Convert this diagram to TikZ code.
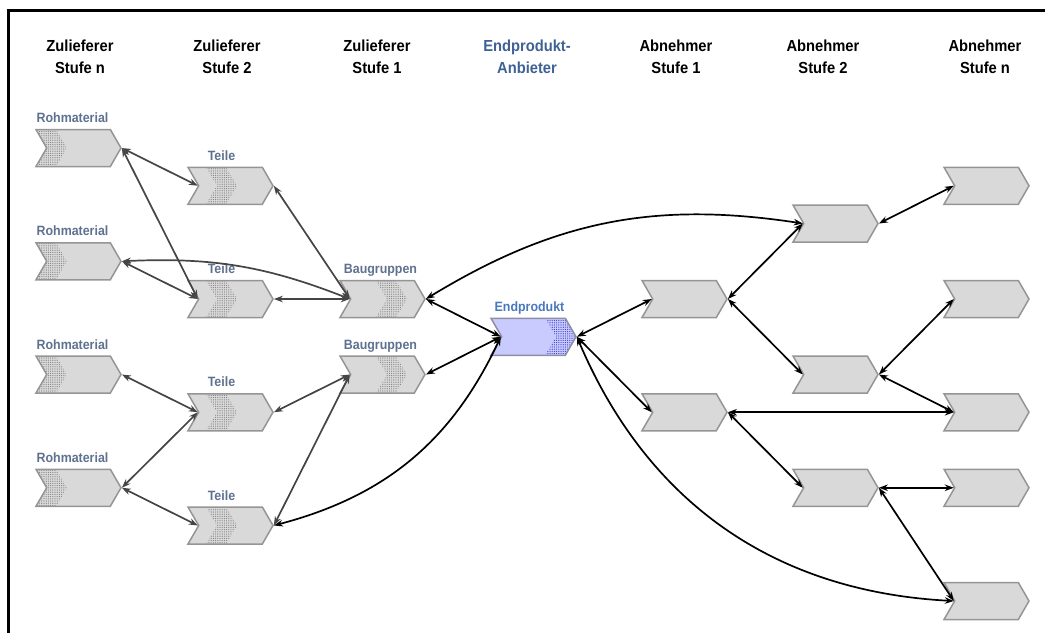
\documentclass[tikz,border=0pt]{standalone}
\usepackage{fontspec}
\setmainfont{Liberation Sans}[FakeStretch=0.92]
\usetikzlibrary{shapes.symbols,arrows.meta,patterns.meta}
\definecolor{boxgray}{HTML}{D9D9D9}
\definecolor{boxline}{HTML}{959595}
\definecolor{endfill}{HTML}{C9CBFF}
\definecolor{endline}{HTML}{8E8EA6}
\definecolor{labgray}{HTML}{5E7190}
\definecolor{endblue}{HTML}{4A78BC}
\definecolor{headblue}{HTML}{3F6194}
\definecolor{linkgray}{HTML}{454545}
\begin{document}
\begin{tikzpicture}[x=1pt, y=-1pt,
    stage/.style={draw=boxline, line width=1.5pt, fill=boxgray, signal, signal to=east, signal from=west,
        signal pointer angle=120, minimum width=85pt, minimum height=37pt, inner sep=0pt},
    band/.style 2 args={path picture={\fill[pattern={Dots[distance=2.2pt,radius=0.6pt]}, pattern color=#2]
        ([xshift=#1pt]path picture bounding box.north west) -- ([xshift=#1pt+11pt]path picture bounding box.west)
        -- ([xshift=#1pt]path picture bounding box.south west) -- ([xshift=#1pt+20pt]path picture bounding box.south west)
        -- ([xshift=#1pt+31pt]path picture bounding box.west) -- ([xshift=#1pt+20pt]path picture bounding box.north west) -- cycle;}},
    head/.style={font=\bfseries\fontsize{16}{22}\selectfont, align=center},
    lab/.style={font=\bfseries\fontsize{13.5}{15}\selectfont, text=labgray, inner sep=0pt, text depth=0pt, label distance=6pt},
    link/.style={{Stealth[length=9pt,width=6.5pt]}-{Stealth[length=9pt,width=6.5pt]}, line width=1.7pt, draw=linkgray},
    blink/.style={link, draw=black}]
    \useasboundingbox (0,0) rectangle (1045,633);
    % frame
    \draw[line width=3pt] (6.5,10) -- (1045,10);
    \draw[line width=3pt] (8,10) -- (8,633);

    % headers
    \node[head] (hsupn) at (80,57) {Zulieferer\\Stufe n};
    \node[head] (hsup2) at (227,57) {Zulieferer\\Stufe 2};
    \node[head] (hsup1) at (377,57) {Zulieferer\\Stufe 1};
    \node[head, text=headblue] (hprod) at (527,57) {Endprodukt-\\Anbieter};
    \node[head] (hcus1) at (676,57) {Abnehmer\\Stufe 1};
    \node[head] (hcus2) at (823,57) {Abnehmer\\Stufe 2};
    \node[head] (hcusn) at (985,57) {Abnehmer\\Stufe n};

    % suppliers
    \node[stage, band={0}{gray}, label={[lab, xshift=-6pt]above:Rohmaterial}] (raw1) at (78.5,148) {};
    \node[stage, band={0}{gray}, label={[lab, xshift=-6pt]above:Rohmaterial}] (raw2) at (78.5,261.25) {};
    \node[stage, band={0}{gray}, label={[lab, xshift=-6pt]above:Rohmaterial}] (raw3) at (78.5,374.5) {};
    \node[stage, band={0}{gray}, label={[lab, xshift=-6pt]above:Rohmaterial}] (raw4) at (78.5,487.75) {};
    \node[stage, band={18}{gray}, label={[lab, xshift=-9pt]above:Teile}] (part1) at (230.5,185.75) {};
    \node[stage, band={18}{gray}, label={[lab, xshift=-9pt]above:Teile}] (part2) at (230.5,299) {};
    \node[stage, band={18}{gray}, label={[lab, xshift=-9pt]above:Teile}] (part3) at (230.5,412.25) {};
    \node[stage, band={18}{gray}, label={[lab, xshift=-9pt]above:Teile}] (part4) at (230.5,525.5) {};
    \node[stage, band={36}{gray}, label={[lab, xshift=-2pt]above:Baugruppen}] (asm1) at (382.5,299) {};
    \node[stage, band={36}{gray}, label={[lab, xshift=-2pt]above:Baugruppen}] (asm2) at (382.5,374.5) {};

    % end product
    \node[stage, fill=endfill, draw=endline, band={54}{blue!55!gray},
        label={[lab, text=endblue, xshift=-4pt]above:Endprodukt}] (prod) at (533.5,336.75) {};

    % customers
    \node[stage] (cus1a) at (684.5,299) {};
    \node[stage] (cus1b) at (684.5,412.25) {};
    \node[stage] (cus2a) at (835.5,223.5) {};
    \node[stage] (cus2b) at (835.5,374.5) {};
    \node[stage] (cus2c) at (835.5,487.75) {};
    \node[stage] (cusna) at (986.5,185.75) {};
    \node[stage] (cusnb) at (986.5,299) {};
    \node[stage] (cusnc) at (986.5,412.25) {};
    \node[stage] (cusnd) at (986.5,487.75) {};
    \node[stage] (cusne) at (986.5,601) {};

    % supply links
    \draw[link] (raw1.0) -- (part1.180);
    \draw[link] (raw1.0) -- (part2.180);
    \draw[link] (raw2.0) -- (part2.180);
    \draw[link] (raw2.0) to[bend left=12] (asm1.180);
    \draw[link] (part1.0) -- (asm1.180);
    \draw[link] (part2.0) -- (asm1.180);
    \draw[link] (raw3.0) -- (part3.180);
    \draw[link] (raw4.0) -- (part3.180);
    \draw[link] (raw4.0) -- (part4.180);
    \draw[link] (part3.0) -- (asm2.180);
    \draw[link] (part4.0) -- (asm2.180);

    % product links
    \draw[blink] (asm1.0) -- (prod.180);
    \draw[blink] (asm2.0) -- (prod.180);
    \draw[blink] (part4.0) to[bend right=25] (prod.180);
    \draw[blink] (asm1.0) to[bend left=20] (cus2a.180);
    \draw[blink] (prod.0) -- (cus1a.180);
    \draw[blink] (prod.0) -- (cus1b.180);
    \draw[blink] (prod.0) to[bend right=32] (cusne.180);

    % customer links
    \draw[blink] (cus1a.0) -- (cus2a.180);
    \draw[blink] (cus1a.0) -- (cus2b.180);
    \draw[blink] (cus1b.0) -- (cusnc.180);
    \draw[blink] (cus1b.0) -- (cus2c.180);
    \draw[blink] (cus2a.0) -- (cusna.180);
    \draw[blink] (cus2b.0) -- (cusnb.180);
    \draw[blink] (cus2b.0) -- (cusnc.180);
    \draw[blink] (cus2c.0) -- (cusnd.180);
    \draw[blink] (cus2c.0) -- (cusne.180);
\end{tikzpicture}
\end{document}
